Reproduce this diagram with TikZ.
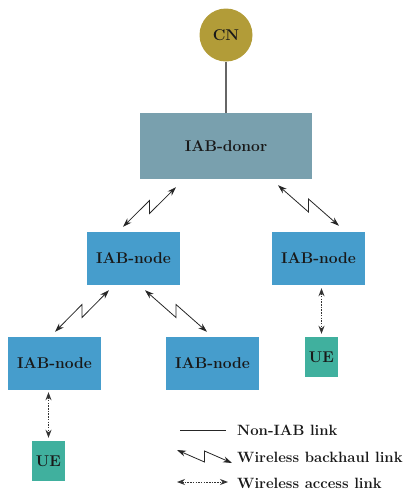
\documentclass[tikz,border=0pt]{standalone}
\usepackage{xcolor}
\usepackage{tikz}
\usetikzlibrary{arrows.meta, positioning, calc}

\definecolor{cngold}{RGB}{178,156,56}
\definecolor{donorgray}{RGB}{121,160,174}
\definecolor{iabblue}{RGB}{70,157,204}
\definecolor{ueteal}{RGB}{64,176,158}

% lightning-shaped backhaul link between two points
\newcommand{\bhlink}[2]{\draw[backhaul] (#1) -- ($(#1)!0.5!(#2)+(0,\jog)$) -- ($(#1)!0.5!(#2)-(0,\jog)$) -- (#2);}

\begin{document}
\begin{tikzpicture}[x=1pt, y=-1pt,
	every node/.style={font=\fontsize{15.6}{18}\selectfont\bfseries, text=black!90},
	iab/.style={fill=iabblue, minimum width=93pt, minimum height=53pt, inner sep=0pt},
	uebox/.style={fill=ueteal, minimum width=33pt, minimum height=40pt, inner sep=0pt},
	wired/.style={draw=black!60, line width=1.2pt},
	backhaul/.style={draw=black!85, line width=0.8pt, {Stealth[length=9pt,width=6pt]}-{Stealth[length=9pt,width=6pt]}},
	access/.style={draw=black!80, line width=0.9pt, dash pattern=on 1.5pt off 1.2pt, {Stealth[length=8pt,width=6pt]}-{Stealth[length=8pt,width=6pt]}},
	legend/.style={anchor=west, inner sep=0pt, font=\fontsize{14.9}{17}\selectfont\bfseries}
	]
	
	% ----- Parameters -----
	\def\jog{6.5} % half height of the zigzag step
	\useasboundingbox (0,0) rectangle (404,491);
	
	% ----- Core network and donor -----
	\node[circle, fill=cngold, minimum size=53pt, inner sep=0pt] (cn) at (226,35) {CN};
	\node[fill=donorgray, minimum width=172pt, minimum height=66pt, inner sep=0pt] (donor) at (226,146) {IAB-donor};
	\draw[wired] (cn) -- (donor);
	
	% ----- IAB-nodes -----
	\node[iab] (n1) at (133.5,258.5) {IAB-node};
	\node[iab] (n2) at (318.5,258.5) {IAB-node};
	\node[iab] (n3) at (54.5,363.5) {IAB-node};
	\node[iab] (n4) at (212.5,363.5) {IAB-node};
	
	% ----- UEs -----
	\node[uebox] (ue1) at (321.5,357) {UE};
	\node[uebox] (ue2) at (48.5,461) {UE};
	
	% ----- Wireless backhaul links -----
	\coordinate (d1) at ($(donor.south)+(-50,8)$);
	\coordinate (d2) at ($(donor.south)+(52,6)$);
	\coordinate (a1) at ($(n1.north)+(-10.5,-5)$);
	\coordinate (a2) at ($(n2.north)+(20.5,-6)$);
	\coordinate (b1) at ($(n1.south)+(-24.5,5)$);
	\coordinate (b2) at ($(n1.south)+(11.5,5)$);
	\coordinate (c1) at ($(n3.north)+(0.5,-5)$);
	\coordinate (c2) at ($(n4.north)+(-5.5,-5)$);
	\bhlink{d1}{a1}
	\bhlink{d2}{a2}
	\bhlink{b1}{c1}
	\bhlink{b2}{c2}
	
	% ----- Wireless access links -----
	\draw[access] ($(ue1.north |- n2.south)+(0,3)$) -- ($(ue1.north)+(0,-3)$);
	\draw[access] ($(ue2.north |- n3.south)+(0,2)$) -- ($(ue2.north)+(0,-3)$);
	
	% ----- Legend -----
	\node[legend] (l1) at (237,430) {Non-IAB link};
	\node[legend] (l2) at (237,457) {Wireless backhaul link};
	\node[legend] (l3) at (237,483) {Wireless access link};
	\coordinate (p1) at (180,430);
	\coordinate (q1) at (226,430);
	\coordinate (p2) at (177,450);
	\coordinate (q2) at (232,463);
	\coordinate (p3) at (177,482);
	\coordinate (q3) at (228,482);
	\def\jog{5.5}
	\draw[draw=black!85, line width=0.8pt] (p1) -- (q1);
	\bhlink{p2}{q2}
	\draw[access] (p3) -- (q3);
	
\end{tikzpicture}
\end{document}
